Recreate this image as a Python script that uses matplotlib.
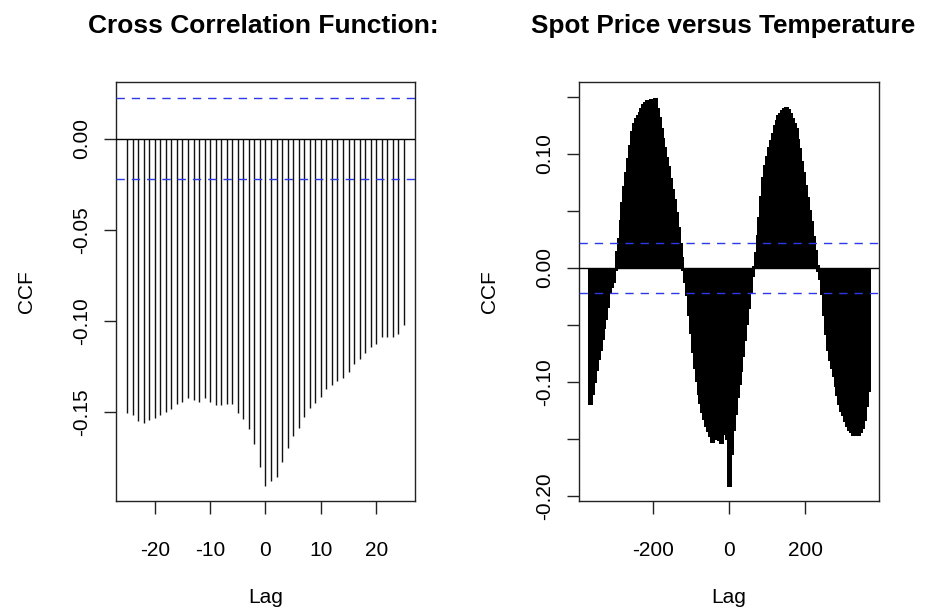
import matplotlib
matplotlib.use("Agg")
import matplotlib.pyplot as plt

# short lag window (left panel)
LAGS_SHORT = list(range(-25, 26))
CCF_SHORT = [
    -0.1506, -0.1515, -0.1551, -0.1564, -0.1546, -0.1533, -0.1518, -0.1500, -0.1485, -0.1458,
    -0.1449, -0.1427, -0.1436, -0.1445, -0.1427, -0.1449, -0.1463, -0.1463, -0.1460, -0.1460,
    -0.1504, -0.1540, -0.1592, -0.1679, -0.1806,
    -0.1908,
    -0.1881, -0.1857, -0.1775, -0.1698, -0.1632, -0.1588, -0.1527, -0.1482, -0.1454, -0.1418,
    -0.1377, -0.1353, -0.1330, -0.1313, -0.1284, -0.1238, -0.1211, -0.1176, -0.1147, -0.1128,
    -0.1092, -0.1092, -0.1092, -0.1073, -0.1024,
]

# long lag window (right panel), read every 5 lags
LAGS_LONG = list(range(-365, 366, 5))
CCF_LONG = [
    -0.119, -0.110, -0.100, -0.089, -0.080, -0.072, -0.062, -0.053, -0.045, -0.034,
    -0.022, -0.017, -0.012, -0.002, 0.015, 0.026, 0.042, 0.058, 0.072, 0.084,
    0.096, 0.108, 0.120, 0.127, 0.131, 0.134, 0.137, 0.140, 0.144, 0.145,
    0.147, 0.146, 0.148, 0.148, 0.149, 0.140, 0.132, 0.123, 0.114, 0.106,
    0.097, 0.089, 0.079, 0.069, 0.060, 0.049, 0.036, 0.022, 0.010, -0.002,
    -0.012, -0.024, -0.041, -0.057, -0.074, -0.088, -0.099, -0.110, -0.118, -0.126,
    -0.132, -0.138, -0.143, -0.147, -0.152, -0.150, -0.148, -0.150, -0.151, -0.153,
    -0.143, -0.145, -0.150, -0.191, -0.163, -0.142, -0.128, -0.113, -0.102, -0.090,
    -0.077, -0.063, -0.049, -0.035, -0.021, -0.007, 0.002, 0.014, 0.029, 0.045,
    0.063, 0.080, 0.090, 0.098, 0.106, 0.112, 0.118, 0.125, 0.130, 0.134,
    0.136, 0.138, 0.140, 0.141, 0.139, 0.136, 0.131, 0.127, 0.123, 0.113,
    0.105, 0.094, 0.084, 0.073, 0.062, 0.051, 0.041, 0.028, 0.016, 0.003,
    -0.003, -0.010, -0.023, -0.041, -0.058, -0.072, -0.081, -0.088, -0.095, -0.103,
    -0.111, -0.119, -0.125, -0.129, -0.134, -0.138, -0.142, -0.144, -0.146, -0.146,
    -0.145, -0.146, -0.144, -0.140, -0.133, -0.121, -0.108,
]

CI = 0.0223

LEFT_XTICKS = [-20, -10, 0, 10, 20]
LEFT_YTICKS = [0.00, -0.05, -0.10, -0.15]
LEFT_YLABELS = ["0.00", "-0.05", "-0.10", "-0.15"]
RIGHT_XTICKS = [-200, 0, 200]
RIGHT_YTICKS = [-0.20, -0.15, -0.10, -0.05, 0.00, 0.05, 0.10, 0.15]
RIGHT_YLABELS = ["-0.20", "", "-0.10", "", "0.00", "", "0.10", ""]

plt.rcParams["font.family"] = ["Liberation Sans", "DejaVu Sans"]

fig = plt.figure(figsize=(9.28, 6.10), dpi=100)
ax1 = fig.add_axes([116 / 928, 109 / 610, 299 / 928, 419 / 610])
ax2 = fig.add_axes([579 / 928, 109 / 610, 300 / 928, 419 / 610])


def style(ax, xticks, yticks, ylabels):
    ax.set_xticks(xticks)
    ax.set_xticklabels([str(t) for t in xticks])
    ax.set_yticks(yticks)
    ax.set_yticklabels(ylabels)
    for sp in ax.spines.values():
        sp.set_linewidth(1.0)
        sp.set_color("#222222")
    ax.tick_params(axis="both", length=9, width=1.0, color="#222222",
                   labelsize=15, direction="out")
    ax.tick_params(axis="x", pad=20)
    ax.tick_params(axis="y", pad=9)
    for lbl in ax.get_yticklabels():
        lbl.set_rotation(90)
        lbl.set_va("center")
    ax.set_xlabel("Lag", fontsize=15, labelpad=20)
    ax.set_ylabel("CCF", fontsize=15, labelpad=26)
    ax.axhline(0, color="black", linewidth=1.0, zorder=3)
    ax.axhline(CI, color="#2a3ae6", linestyle=(0, (6, 5)), linewidth=1.0, zorder=4)
    ax.axhline(-CI, color="#2a3ae6", linestyle=(0, (6, 5)), linewidth=1.0, zorder=4)


ax1.vlines(LAGS_SHORT, 0, CCF_SHORT, color="#111111", linewidth=1.0)
ax1.set_xlim(-27, 27)
ax1.set_ylim(-0.199, 0.0311)
style(ax1, LEFT_XTICKS, LEFT_YTICKS, LEFT_YLABELS)

ax2.vlines(LAGS_LONG, 0, CCF_LONG, color="black", linewidth=2.4, antialiased=False)
ax2.set_xlim(-394.2, 394.2)
ax2.set_ylim(-0.2041, 0.1629)
style(ax2, RIGHT_XTICKS, RIGHT_YTICKS, RIGHT_YLABELS)

fig.text(263 / 928, 1 - 33 / 610, "Cross Correlation Function:", ha="center",
         va="baseline", fontsize=19, fontweight="bold")
fig.text(723 / 928, 1 - 33 / 610, "Spot Price versus Temperature", ha="center",
         va="baseline", fontsize=18.8, fontweight="bold")

fig.savefig("out.png", dpi=100)
